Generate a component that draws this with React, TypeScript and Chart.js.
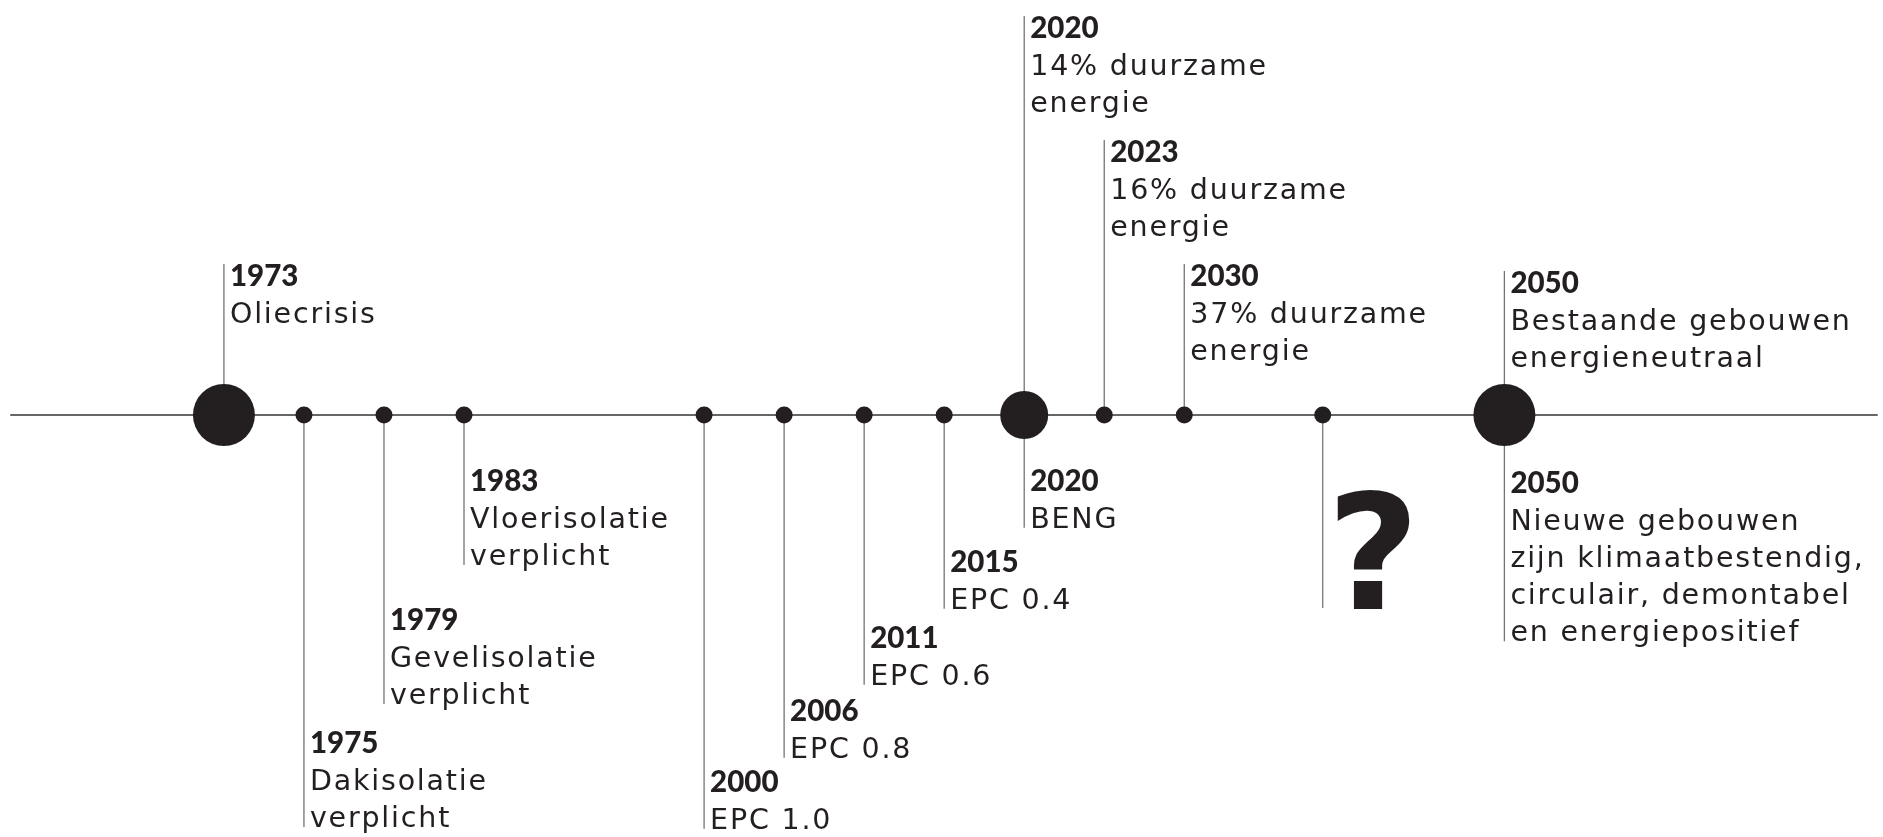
import React, { useEffect, useRef } from "react";
import { Chart, registerables } from "chart.js";

Chart.register(...registerables);

// ---- data ----
// timeline slots (evenly spaced positions along the line, not proportional to years)
const dotYears = ["1973", "1975", "1979", "1983", "2000", "2006", "2011", "2015", "2020", "2023", "2030", "?", "2050"];
const dotSlots = [0, 1, 2, 3, 6, 7, 8, 9, 10, 11, 12, 13.73, 16];
const dotImportance = [3, 1, 1, 1, 1, 1, 1, 1, 2, 1, 1, 1, 3];

// annotations: year, slot, label height above (+) / below (-) the line, text lines
const noteYears = ["1973", "1975", "1979", "1983", "2000", "2006", "2011", "2015", "2020", "2020", "2023", "2030", "2050", "2050"];
const noteSlots = [0, 1, 2, 3, 6, 7, 8, 9, 10, 10, 11, 12, 16, 16];
const noteHeights = [150, -317, -194, -55, -356, -285, -212, -136, 398, -55, 274, 150, 143, -57];
const noteLines: string[][] = [
  ["Oliecrisis"],
  ["Dakisolatie", "verplicht"],
  ["Gevelisolatie", "verplicht"],
  ["Vloerisolatie", "verplicht"],
  ["EPC 1.0"],
  ["EPC 0.8"],
  ["EPC 0.6"],
  ["EPC 0.4"],
  ["14% duurzame", "energie"],
  ["BENG"],
  ["16% duurzame", "energie"],
  ["37% duurzame", "energie"],
  ["Bestaande gebouwen", "energieneutraal"],
  ["Nieuwe gebouwen", "zijn klimaatbestendig,", "circulair, demontabel", "en energiepositief"],
];

const unknownSlot = 13.73;
const unknownDepth = -193;
const unknownMark = "?";

// axis extent and scale ranges (in slot / height units)
const axisFrom = -2.67;
const axisTo = 20.665;
const xRange = [-2.798, 20.731];
const yRange = [-422, 415];

// ---- styles ----
const INK = "#231f20";
const AXIS_COLOR = "#666666";
const STEM_COLOR = "#747474";
const RADII: Record<number, number> = { 1: 8.5, 2: 24, 3: 31 };
const REG_FONT = '28.5px "DejaVu Sans"';
const BOLD_FONT = '900 29.5px Lato';
const CAP = 20.5;
const STEP = 37.2;
const TEXT_GAP = 6;

const timelinePlugin = {
  id: "timeline",
  beforeDatasetsDraw(chart: any) {
    const { ctx, scales } = chart;
    const x = scales.x;
    const y = scales.y;
    const y0 = y.getPixelForValue(0);
    ctx.save();
    ctx.strokeStyle = AXIS_COLOR;
    ctx.lineWidth = 2;
    ctx.beginPath();
    ctx.moveTo(x.getPixelForValue(axisFrom), y0);
    ctx.lineTo(x.getPixelForValue(axisTo), y0);
    ctx.stroke();

    ctx.strokeStyle = STEM_COLOR;
    ctx.lineWidth = 1.3;
    noteSlots.forEach((s, i) => {
      const px = x.getPixelForValue(s);
      const top = y.getPixelForValue(noteHeights[i]);
      let a: number, b: number;
      if (noteHeights[i] > 0) {
        a = top - 1;
        b = y0;
      } else {
        a = y0;
        b = top + CAP + noteLines[i].length * STEP;
      }
      ctx.beginPath();
      ctx.moveTo(px, a);
      ctx.lineTo(px, b);
      ctx.stroke();
    });
    const ux = x.getPixelForValue(unknownSlot);
    ctx.beginPath();
    ctx.moveTo(ux, y0);
    ctx.lineTo(ux, y.getPixelForValue(unknownDepth));
    ctx.stroke();
    ctx.restore();
  },
  afterDatasetsDraw(chart: any) {
    const { ctx, scales } = chart;
    const x = scales.x;
    const y = scales.y;
    ctx.save();
    ctx.fillStyle = INK;
    ctx.textBaseline = "alphabetic";
    ctx.textAlign = "left";
    noteSlots.forEach((s, i) => {
      const px = x.getPixelForValue(s) + TEXT_GAP;
      const top = y.getPixelForValue(noteHeights[i]);
      const base = top + CAP;
      ctx.font = BOLD_FONT;
      (ctx as any).letterSpacing = "0px";
      ctx.fillText(noteYears[i], px, base);
      ctx.font = REG_FONT;
      (ctx as any).letterSpacing = "1.8px";
      noteLines[i].forEach((line, k) => {
        ctx.fillText(line, px, base + (k + 1) * STEP);
      });
    });
    (ctx as any).letterSpacing = "0px";
    ctx.font = 'bold 160px "DejaVu Sans"';
    ctx.fillText(unknownMark, x.getPixelForValue(unknownSlot) + 4, y.getPixelForValue(unknownDepth) + 1);
    ctx.restore();
  },
};

export default function App() {
  const ref = useRef<HTMLCanvasElement>(null);
  useEffect(() => {
    const chart = new Chart(ref.current as HTMLCanvasElement, {
      type: "scatter",
      data: {
        labels: dotYears,
        datasets: [
          {
            label: "Tijdlijn",
            data: dotSlots.map((s) => ({ x: s, y: 0 })),
            pointRadius: (c: any) => RADII[dotImportance[c.dataIndex]] ?? 8.5,
            pointHoverRadius: (c: any) => RADII[dotImportance[c.dataIndex]] ?? 8.5,
            pointBackgroundColor: INK,
            pointBorderWidth: 0,
            showLine: false,
          },
        ],
      },
      options: {
        animation: false,
        responsive: true,
        maintainAspectRatio: false,
        events: [],
        layout: { padding: 0, autoPadding: false },
        plugins: { legend: { display: false }, tooltip: { enabled: false } },
        scales: {
          x: { type: "linear", min: xRange[0], max: xRange[1], display: false },
          y: { type: "linear", min: yRange[0], max: yRange[1], display: false },
        },
      },
      plugins: [timelinePlugin],
    });
    return () => chart.destroy();
  }, []);
  return (
    <div style={{ position: "fixed", left: 0, top: 0, width: 1883, height: 837, background: "#fff" }}>
      <canvas ref={ref} />
    </div>
  );
}
